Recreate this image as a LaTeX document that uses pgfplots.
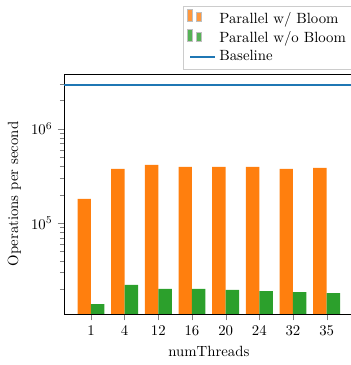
\documentclass[border=0pt]{standalone}
\usepackage{pgfplots}
\pgfplotsset{compat=1.18}
\definecolor{color0}{RGB}{31,119,180}
\definecolor{color1}{RGB}{255,127,14}
\definecolor{color2}{RGB}{44,160,44}
\pgfplotsset{
  mybarlegend/.style={
    legend image code/.code={
      \draw[##1,draw=white!75!black,fill opacity=0.8,draw opacity=1,line width=0.6pt]
        (-1.5pt,-0.2em) rectangle (1.5pt,0.6em)
        (4.5pt,-0.2em) rectangle (7.5pt,0.4em);
    }
  }
}
\begin{document}
\begin{tikzpicture}
\begin{axis}[
  name=ax, at={(0,0)}, anchor=south west,
  scale only axis, width=195.8pt, height=162.2pt,
  ymode=log,
  xmin=-0.8, xmax=7.8,
  ymin=10914, ymax=3.80e6,
  xtick={0,1,2,3,4,5,6,7},
  xticklabels={1,4,12,16,20,24,32,35},
  tick align=outside, tick pos=left,
  xlabel={numThreads},
  ylabel={Operations per second},
  legend cell align=left,
  legend style={at={(1,1.02)}, anchor=south east, draw=white!80!black, fill opacity=0.8, draw opacity=1, text opacity=1},
]
\addplot[ybar, mybarlegend, bar width=0.4, bar shift=-0.2, draw=none, fill=color1] coordinates {
  (0,1.81e5) (1,3.77e5) (2,4.15e5) (3,3.96e5) (4,3.96e5) (5,3.96e5) (6,3.77e5) (7,3.85e5)
};
\addlegendentry{Parallel w/ Bloom}
\addplot[ybar, mybarlegend, bar width=0.4, bar shift=0.2, draw=none, fill=color2] coordinates {
  (0,1.39e4) (1,2.22e4) (2,2.01e4) (3,2.01e4) (4,1.96e4) (5,1.91e4) (6,1.86e4) (7,1.82e4)
};
\addlegendentry{Parallel w/o Bloom}
\addplot[color0, line width=1.4pt] coordinates {(-0.8,2.93e6) (7.8,2.93e6)};
\addlegendentry{Baseline}
\end{axis}
\pgfresetboundingbox
\path[use as bounding box] (-43.3pt,-34.5pt) rectangle (194pt,212.3pt);
\end{tikzpicture}
\end{document}
